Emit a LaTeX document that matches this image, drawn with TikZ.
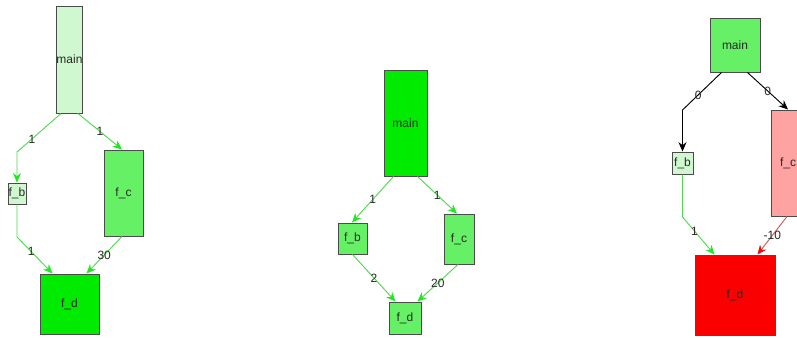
\documentclass[tikz,border=0pt]{standalone}
\usepackage{fontspec}
\setmainfont{Liberation Sans}
\usetikzlibrary{arrows.meta,calc}
\definecolor{palegreen}{RGB}{208,248,208}
\definecolor{midgreen}{RGB}{102,240,102}
\definecolor{fullgreen}{RGB}{0,235,0}
\definecolor{fullred}{RGB}{250,0,0}
\definecolor{pinkred}{RGB}{255,162,162}
\definecolor{boxline}{RGB}{75,75,75}
\definecolor{textgray}{RGB}{40,40,40}
\definecolor{edgegreen}{RGB}{80,218,80}
\definecolor{tipgreen}{RGB}{30,232,30}
\definecolor{edgered}{RGB}{195,95,95}
\definecolor{tipred}{RGB}{240,10,10}
\tikzset{
  box/.style 2 args={draw=boxline, line width=0.75pt, inner sep=0pt,
    minimum width=#1*0.75pt, minimum height=#2*0.75pt, font=\fontsize{9}{10}\selectfont,
    text=textgray},
  edge/.style={line width=0.7pt, draw=edgegreen,
    -{Stealth[length=7pt, width=6pt, color=tipgreen]}},
  edgeblack/.style={line width=0.7pt, draw=black,
    -{Stealth[length=7pt, width=6pt, color=black]}},
  edgered/.style={line width=0.7pt, draw=edgered,
    -{Stealth[length=7pt, width=6pt, color=tipred]}},
  wlabel/.style={font=\fontsize{9}{10}\selectfont, text=textgray, inner sep=0pt}
}
\begin{document}
\begin{tikzpicture}[x=0.75pt, y=-0.75pt]
\clip (0,0) rectangle (797,337);
\fill[white] (0,0) rectangle (797,337);

% ---- left graph ----
\node[box={21}{107}, fill=palegreen] (main1) at (69.5,59.5) {main};
\node[box={18}{21}, fill=palegreen] (fb1) at (17,193.5) {f\_b};
\node[box={39}{86}, fill=midgreen] (fc1) at (123.5,193) {f\_c};
\node[box={59}{60}, fill=fullgreen] (fd1) at (69.5,304) {f\_d};
\coordinate (b1) at (17,152);
\coordinate (c1) at (17,237);

\draw[edge] ($(main1.south west)+(5,0)$) -- node[wlabel, pos=0.66] {1} (b1) -- (fb1.north);
\draw[edge] ($(main1.south east)+(-5,0)$) -- node[wlabel] {1} ($(fc1.north)+(-1.5,0)$);
\draw[edge] (fb1.south) -- (c1) -- node[wlabel, pos=0.4] {1} ($(fd1.north west)+(13,0)$);
\draw[edge] ($(fc1.south)+(-1.5,0)$) -- node[wlabel, pos=0.5] {30} ($(fd1.north east)+(-13,0)$);

% ---- middle graph ----
\node[box={43}{106}, fill=fullgreen] (main2) at (405.5,123) {main};
\node[box={29}{31}, fill=midgreen] (fb2) at (352.5,238.5) {f\_b};
\node[box={30}{50}, fill=midgreen] (fc2) at (459,239) {f\_c};
\node[box={32}{32}, fill=midgreen] (fd2) at (405,318) {f\_d};

\draw[edge] ($(main2.south west)+(10,0)$) -- node[wlabel] {1} ($(fb2.north)+(-0.5,0)$);
\draw[edge] ($(main2.south east)+(-10,0)$) -- node[wlabel] {1} ($(fc2.north)+(-2,0)$);
\draw[edge] (fb2.south) -- node[wlabel] {2} ($(fd2.north west)+(7,0)$);
\draw[edge] ($(fc2.south)+(-1,0)$) -- node[wlabel] {20} ($(fd2.north east)+(-4,0)$);

% ---- right graph ----
\node[box={50}{54}, fill=midgreen] (main3) at (735,45) {main};
\node[box={21}{22}, fill=palegreen] (fb3) at (682.5,163) {f\_b};
\node[box={34}{106}, fill=pinkred] (fc3) at (788,163) {f\_c};
\node[box={80}{80}, fill=fullred] (fd3) at (735,295) {f\_d};
\coordinate (b3) at (682.5,110);
\coordinate (c3) at (682.5,217);

\draw[edgeblack] ($(main3.south west)+(12,0)$) -- node[wlabel, pos=0.6] {0} (b3) -- (fb3.north);
\draw[edgeblack] ($(main3.south east)+(-13,0)$) -- node[wlabel] {0} (fc3.north);
\draw[edge] (fb3.south) -- (c3) -- node[wlabel, pos=0.37] {1} ($(fd3.north west)+(20,0)$);
\draw[edgered] ($(fc3.south)+(-1,0)$) -- node[wlabel] {-10} ($(fd3.north east)+(-18,0)$);
\end{tikzpicture}
\end{document}
